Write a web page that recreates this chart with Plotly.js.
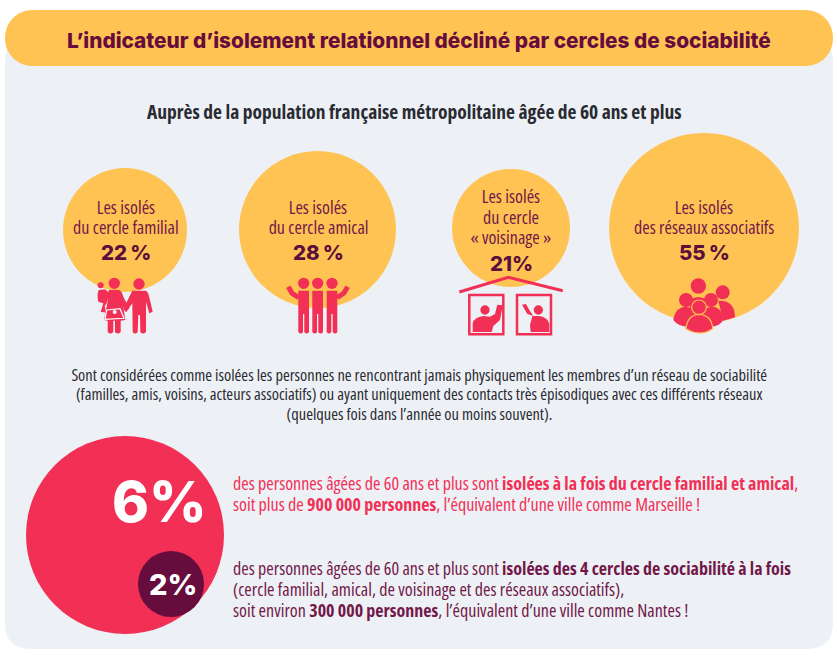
<!DOCTYPE html>
<html><head><meta charset="utf-8">
<script src="https://cdn.plot.ly/plotly-3.0.1.min.js"></script>
<style>html,body{margin:0;padding:0;background:#fff}
.annotation text{font-stretch:75%}</style></head>
<body><div id="chart" style="width:837px;height:656px"></div>
<script>
// DATA
const circleLabels = [
  ["Les isolés", "du cercle familial"],
  ["Les isolés", "du cercle amical"],
  ["Les isolés", "du cercle", "« voisinage »"],
  ["Les isolés", "des réseaux associatifs"]
];
const circleValues = [22, 28, 21, 55];
const cumulValues = [6, 2];
const titleText = "L’indicateur d’isolement relationnel décliné par cercles de sociabilité";
const subtitleText = "Auprès de la population française métropolitaine âgée de 60 ans et plus";
const noteLines = [
  "Sont considérées comme isolées les personnes ne rencontrant jamais physiquement les membres d’un réseau de sociabilité",
  "(familles, amis, voisins, acteurs associatifs) ou ayant uniquement des contacts très épisodiques avec ces différents réseaux",
  "(quelques fois dans l’année ou moins souvent)."
];
const pinkLines = [
  "des personnes âgées de 60 ans et plus sont <b>isolées à la fois du cercle familial et amical</b>,",
  "soit plus de <b>900 000 personnes</b>, l’équivalent d’une ville comme Marseille !"
];
const plumLines = [
  "des personnes âgées de 60 ans et plus sont <b>isolées des 4 cercles de sociabilité à la fois</b>",
  "(cercle familial, amical, de voisinage et des réseaux associatifs),",
  "soit environ <b>300 000 personnes</b>, l’équivalent d’une ville comme Nantes !"
];

// LAYOUT (page pixels)
const YEL="#FFC353", PINK="#F22F55", PLUM="#670D3E", SOFT="#72184A", PANEL="#EDF1F5", INK="#2A2A33";
const NARROW='"Open Sans","Roboto Condensed",sans-serif', HEAVY='Inter,"Open Sans",sans-serif';
const cx=[125,317.5,511,704], cy=[230,229.5,228,228], cd=[124,157,118,190];
const bigX=[125,171], bigY=[535,584], bigD=[198,66];

const traces=[
 {type:"scatter",mode:"markers",x:cx,y:cy,customdata:circleValues,hoverinfo:"skip",
  marker:{size:cd,color:YEL,opacity:1,line:{width:0}}},
 {type:"scatter",mode:"markers",x:bigX,y:bigY,customdata:cumulValues,hoverinfo:"skip",
  marker:{size:bigD,color:[PINK,PLUM],opacity:1,line:{width:0}}}
];

function rr(x0,y0,x1,y1,r){return `M${x0+r},${y0}L${x1-r},${y0}Q${x1},${y0} ${x1},${y0+r}L${x1},${y1-r}Q${x1},${y1} ${x1-r},${y1}L${x0+r},${y1}Q${x0},${y1} ${x0},${y1-r}L${x0},${y0+r}Q${x0},${y0} ${x0+r},${y0}Z`;}
function ic(ox,oy,d){return d.replace(/(-?\d+(?:\.\d+)?),(-?\d+(?:\.\d+)?)/g,(m,a,b)=>`${(ox+a/3).toFixed(1)},${(oy+b/3).toFixed(1)}`);}
const shapes=[
 {type:"path",layer:"below",path:rr(5,36,833,649,26),fillcolor:PANEL,line:{width:0}},
 {type:"path",layer:"below",path:`M33,10 L805,10 C821,10 833,22 833,38 C833,54 821,66 805,66 L33,66 C17,66 5,54 5,38 C5,22 17,10 33,10 Z`,fillcolor:YEL,line:{width:0}}
];
function body(ox,oy,d,fill,lc,lw){shapes.push({type:"path",layer:"above",path:ic(ox,oy,d),fillcolor:fill||PINK,line:{width:lw||0,color:lc||PINK}});}
function head(ox,oy,x,y,r,lc,lw,fill){shapes.push({type:"circle",layer:"above",x0:ox+(x-r)/3,x1:ox+(x+r)/3,y0:oy+(y-r)/3,y1:oy+(y+r)/3,fillcolor:fill||PINK,line:{width:lw||0,color:lc||PINK}});}
function stroke(ox,oy,d,w){shapes.push({type:"path",layer:"above",path:ic(ox,oy,d),line:{width:w,color:PINK}});}

// family
let O=[50,130];
head(...O,193,460,17); head(...O,152,466,9); head(...O,267,462,17);
body(...O,"M247,482 L287,482 Q293,484 296,495 L308,545 L298,550 L288,515 L288,606 Q280,615 271,606 L270,555 L265,555 L263,606 Q255,615 248,606 L247,520 L228,547 L220,537 Z");
body(...O,"M176,480 L208,480 Q216,484 220,500 L238,535 L228,545 L220,530 L226,570 L212,572 L212,606 Q203,615 195,606 L195,572 L190,572 L190,606 Q181,615 173,606 L173,572 L162,570 L172,520 Z");
body(...O,"M146,480 L165,478 L178,488 L170,520 L164,528 L168,548 L152,545 L160,520 L145,515 Q140,495 146,480 Z");
body(...O,"M170,540 L210,536 L222,565 L165,568 Z",PINK,"#ffffff",1.2);
head(...O,194,546,6,"#ffffff",0,"#ffffff");
// friends
[761,803,846].forEach(x=>{head(...O,x,460,17);
 body(...O,`M${x-16},482 L${x+16},482 L${x+16},606 Q${x+9},615 ${x+2},606 L${x+2},552 L${x-2},552 L${x-2},606 Q${x-9},615 ${x-16},606 Z`);});
stroke(...O,"M746,503 L726,490 L715,470",5); stroke(...O,"M861,503 L881,490 L893,470",5);
// neighbours
O=[440,130];
stroke(...O,"M58,486 L205,442 L368,482",3);
["M88,495 L190,495 L190,613 L88,613 Z","M231,495 L333,495 L333,613 L231,613 Z"].forEach(d=>stroke(...O,d,2.5));
head(...O,135,540,14); head(...O,295,540,14);
body(...O,"M98,606 L98,580 Q102,562 130,558 L150,560 L165,552 L172,524 L188,526 L180,570 L160,588 L155,606 Z");
body(...O,"M328,606 L328,582 Q324,562 298,558 L280,558 L262,552 L246,524 L258,522 L268,540 L278,555 L270,585 L272,606 Z");
// association group
head(...O,775,468,23); head(...O,848,487,21);
body(...O,"M835,512 Q885,510 885,562 L850,572 Z");
body(...O,"M745,512 Q775,490 805,512 L790,560 L760,560 Z");
head(...O,738,510,21); head(...O,813,510,21);
body(...O,"M700,570 Q705,532 738,530 Q770,532 775,565 L745,590 Q715,590 700,570 Z");
body(...O,"M780,565 Q785,532 815,530 Q848,532 850,570 Q838,590 812,590 Z");
head(...O,777,532,22,YEL,1.2);
body(...O,"M738,596 Q742,555 777,553 Q815,555 818,596 Q780,622 738,596 Z",PINK,YEL,1.2);

// TEXT
const ann=[];
function T(x,y,text,size,color,family,opt,weight){ann.push(Object.assign({xref:"x",yref:"y",x,y,text,showarrow:false,xanchor:"center",yanchor:"middle",align:"center",font:{size,color,family,weight:weight||400}},opt||{}));}
T(419,40,titleText,20.8,PLUM,HEAVY,null,800);
T(414.5,111,`<b>${subtitleText}</b>`,19.5,INK,NARROW);
const lineY=[[207,227],[207,227],[196,217,237],[207,227]], pctY=[252,252,263,252], txtX=[125.5,318,511,704];
const pctSep=["\u2009","\u2009","","\u2009"];
circleLabels.forEach((ls,i)=>{
  ls.forEach((l,j)=>T(txtX[i],lineY[i][j],l,18,SOFT,NARROW));
  T(txtX[i],pctY[i],`${circleValues[i]}${pctSep[i]}%`,20.5,"#5C0F3C",HEAVY,null,800);
});
noteLines.forEach((l,i)=>T(419,374+i*19.6,l,16.4,INK,NARROW));
T(159,502,`${cumulValues[0]}%`,56,"#fff",HEAVY,null,800);
T(173,584,`${cumulValues[1]}%`,29,"#fff",HEAVY,null,800);
pinkLines.forEach((l,i)=>T(231,483+i*20.5,l,18,PINK,NARROW,{xanchor:"left",align:"left"}));
plumLines.forEach((l,i)=>T(231,568+i*21,l,18,SOFT,NARROW,{xanchor:"left",align:"left"}));

const ax={visible:false,fixedrange:true,showgrid:false,zeroline:false};
Plotly.newPlot("chart",traces,{
  width:837,height:656,margin:{l:0,r:0,t:0,b:0,pad:0},showlegend:false,
  paper_bgcolor:"#fff",plot_bgcolor:"rgba(0,0,0,0)",
  xaxis:Object.assign({range:[0,837]},ax),yaxis:Object.assign({range:[656,0]},ax),
  shapes,annotations:ann
},{displayModeBar:false,staticPlot:true});
</script></body></html>
